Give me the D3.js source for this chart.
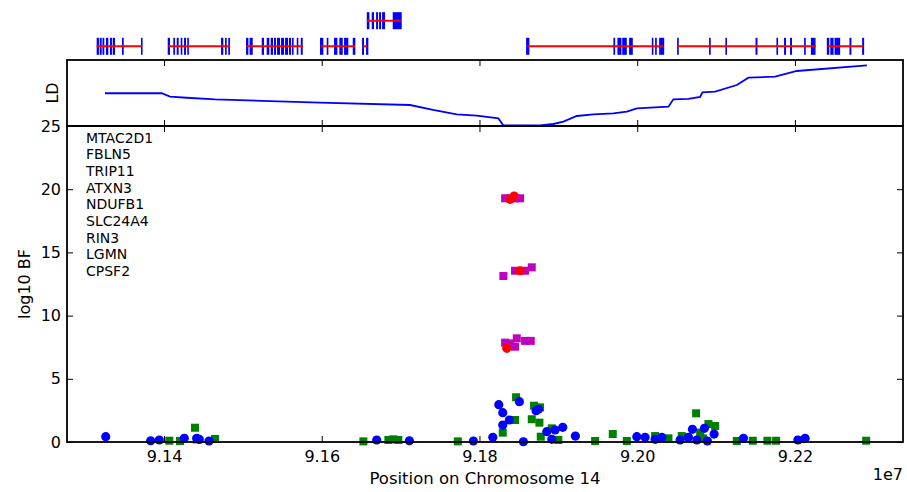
<!DOCTYPE html>
<html>
<head>
<meta charset="utf-8">
<script src="https://cdn.jsdelivr.net/npm/d3@7/dist/d3.min.js"></script>
<style>
  html, body { margin: 0; padding: 0; background: #fff; }
  svg { display: block; font-family: "DejaVu Sans", sans-serif; }
</style>
</head>
<body>
<svg id="chart" width="907" height="492"></svg>
<script>
// ---------------- DATA ----------------
const geneNames = ["MTAC2D1", "FBLN5", "TRIP11", "ATXN3", "NDUFB1", "CPSF2", "SLC24A4", "RIN3", "LGMN"];
const legendNames = ["MTAC2D1", "FBLN5", "TRIP11", "ATXN3", "NDUFB1", "SLC24A4", "RIN3", "LGMN", "CPSF2"];
const geneRows = [0, 0, 0, 0, 0, 1, 0, 0, 0];
const geneStarts = [91314600, 91405500, 91504900, 91598700, 91652000, 91657100, 91860700, 92051500, 92241700];
const geneEnds   = [91371700, 91483700, 91575900, 91642200, 91657100, 91700200, 92033200, 92226500, 92286800];
const geneExons = [
  [[91314600,91317500],[91318500,91321000],[91322000,91324300],[91326400,91329400],[91331500,91334000],[91335000,91337900],[91346700,91348900],[91370800,91372100]],
  [[91404700,91407600],[91411800,91414000],[91416100,91418600],[91421200,91423200],[91425400,91427900],[91429500,91431300],[91472300,91475200],[91477400,91479500],[91481500,91483700]],
  [[91504000,91507000],[91508500,91512500],[91523900,91526800],[91530200,91533500],[91535300,91538200],[91539500,91542000],[91543300,91547100],[91548400,91552200],[91553500,91557300],[91558500,91561100],[91562300,91564000],[91568300,91570300],[91573400,91575900]],
  [[91597800,91602000],[91606300,91608400],[91615600,91619800],[91622300,91626600],[91628300,91633700],[91639300,91642600]],
  [[91651100,91653600],[91656200,91659100]],
  [[91657100,91660400],[91663400,91666300],[91668900,91671400],[91672700,91675200],[91676500,91680300],[91690000,91701400]],
  [[91859100,91863300],[91969800,91972000],[91974900,91980000],[91981000,91986800],[91989700,91994400],[92018500,92020500],[92022700,92024800],[92027800,92034200]],
  [[92050600,92052700],[92091100,92093200],[92111800,92113800],[92150000,92152500],[92176500,92178600],[92186200,92188700],[92193800,92196300],[92211600,92213700],[92220200,92226100]],
  [[92240400,92243500],[92244800,92249000],[92250200,92257300],[92269100,92271600],[92285200,92287700]]
];

const ldPos = [91325200, 91397100, 91407600, 91428800, 91464700, 91597800, 91712000, 91741100, 91771200, 91796600, 91824000, 91830300, 91876800, 91893700, 91906400, 91923400, 91944400, 91969800, 91986800, 91999500, 92039600, 92045900, 92064900, 92079800, 92082700, 92098800, 92126300, 92141000, 92174900, 92202400, 92291200];
const ldVal = [0.492, 0.492, 0.44, 0.424, 0.40, 0.348, 0.313, 0.237, 0.171, 0.150, 0.110, 0.0, 0.0, 0.023, 0.058, 0.145, 0.171, 0.186, 0.211, 0.263, 0.287, 0.40, 0.405, 0.435, 0.507, 0.516, 0.618, 0.73, 0.745, 0.832, 0.919];

const greenPos = [91406700, 91420300, 91439300, 91441500, 91464700, 91652800, 91684500, 91690800, 91697100, 91772500, 91829500, 91845100, 91846400, 91866300, 91869200, 91876000, 91876800, 91877700, 91891700, 91900000, 91946600, 91969000, 91986800, 92022700, 92039600, 92056500, 92074700, 92079800, 92083200, 92090300, 92098800, 92126300, 92146600, 92165100, 92176100, 92290300];
const greenVal = [0.1, 0.08, 1.13, 0.2, 0.24, 0.05, 0.16, 0.21, 0.16, 0.05, 0.74, 1.74, 3.54, 1.8, 2.87, 1.53, 2.74, 0.42, 1.08, 0.16, 0.08, 0.63, 0.08, 0.47, 0.29, 0.47, 2.27, 0.74, 0.29, 1.42, 1.27, 0.08, 0.1, 0.1, 0.1, 0.1];

const bluePos = [91326100, 91383100, 91394000, 91425700, 91441500, 91444800, 91457100, 91669700, 91711100, 91792300, 91816900, 91824500, 91829500, 91829500, 91837900, 91850600, 91855700, 91871800, 91874700, 91885300, 91891700, 91895900, 91905600, 91921600, 91999500, 92010000, 92022700, 92031200, 92054400, 92064900, 92070000, 92075600, 92085200, 92089000, 92097500, 92134700, 92203700, 92212900];
const blueVal = [0.42, 0.1, 0.16, 0.29, 0.29, 0.2, 0.08, 0.16, 0.1, 0.08, 0.37, 2.95, 2.32, 1.34, 1.74, 3.19, 0.02, 2.48, 2.59, 0.82, 0.21, 0.95, 1.16, 0.47, 0.42, 0.37, 0.21, 0.37, 0.16, 0.37, 1.0, 0.16, 1.08, 0.08, 0.63, 0.29, 0.16, 0.29];

const magentaPos = [91832500, 91838800, 91845100, 91851500, 91830300, 91845100, 91857800, 91866300, 91832500, 91838800, 91847300, 91857800, 91865000, 91845100];
const magentaVal = [19.28, 19.28, 19.28, 19.28, 13.13, 13.55, 13.55, 13.82, 7.86, 7.8, 8.2, 8.0, 8.0, 7.54];

const redPos = [91838800, 91843900, 91851500, 91834600];
const redVal = [19.2, 19.46, 13.55, 7.41];

const xTicks = [91400000, 91600000, 91800000, 92000000, 92200000];
const yTicks = [0, 5, 10, 15, 20, 25];

// ---------------- LAYOUT ----------------
const L = 67, R = 903;
const ldTop = 60, mainTop = 126, mainBottom = 442;

const svg = d3.select("#chart");

const x = d3.scaleLinear().domain([91277000, 92337000]).range([L, R]);
const y = d3.scaleLinear().domain([0, 25]).range([mainBottom, mainTop]);
const yLD = d3.scaleLinear().domain([0, 1]).range([mainTop - 0.5, ldTop]);
const yGene = d3.scaleLinear().domain([0, 1]).range([46.3, 20.7]);

// ---------------- GENE TRACK ----------------
const genes = geneNames.map((n, i) => ({name: n, row: geneRows[i], start: geneStarts[i], end: geneEnds[i], exons: geneExons[i]}));
const gTrack = svg.append("g");
genes.forEach(g => {
  gTrack.selectAll(null).data(g.exons).enter().append("rect")
    .attr("x", d => x(d[0]))
    .attr("width", d => Math.max(x(d[1]) - x(d[0]), 1.6))
    .attr("y", yGene(g.row) - 8.5)
    .attr("height", 17)
    .attr("fill", "#0000ff");
});
genes.forEach(g => {
  gTrack.append("line")
    .attr("x1", x(g.start)).attr("x2", x(g.end))
    .attr("y1", yGene(g.row)).attr("y2", yGene(g.row))
    .attr("stroke", "#ff0000").attr("stroke-width", 2);
});

// ---------------- LD PANEL ----------------
const ldLine = d3.line().x((d, i) => x(ldPos[i])).y(d => yLD(d));
svg.append("path").datum(ldVal)
  .attr("d", ldLine)
  .attr("fill", "none").attr("stroke", "#0000ff").attr("stroke-width", 1.8);

svg.append("g").attr("transform", `translate(0,${ldTop})`)
  .call(d3.axisTop(x).tickValues(xTicks).tickSizeInner(-6).tickSizeOuter(0).tickFormat(""))
  .call(g => g.select(".domain").remove());
svg.append("g").attr("transform", `translate(0,${mainTop})`)
  .call(d3.axisBottom(x).tickValues(xTicks).tickSizeInner(-6).tickSizeOuter(0).tickFormat(""))
  .call(g => g.select(".domain").remove());

svg.append("text")
  .attr("transform", `translate(58,${(ldTop + mainTop) / 2}) rotate(-90)`)
  .attr("text-anchor", "middle")
  .attr("font-size", 16)
  .text("LD");

// ---------------- MAIN PANEL ----------------
const gMain = svg.append("g");
const sq = 8;
gMain.selectAll("rect.green").data(greenVal).enter().append("rect")
  .attr("class", "green")
  .attr("x", (d, i) => x(greenPos[i]) - sq / 2)
  .attr("y", d => y(d) - sq / 2)
  .attr("width", sq).attr("height", sq)
  .attr("fill", "#008000");
gMain.selectAll("circle.blue").data(blueVal).enter().append("circle")
  .attr("class", "blue")
  .attr("cx", (d, i) => x(bluePos[i]))
  .attr("cy", d => y(d))
  .attr("r", 4.6)
  .attr("fill", "#0000ff");
gMain.selectAll("rect.mag").data(magentaVal).enter().append("rect")
  .attr("class", "mag")
  .attr("x", (d, i) => x(magentaPos[i]) - sq / 2)
  .attr("y", d => y(d) - sq / 2)
  .attr("width", sq).attr("height", sq)
  .attr("fill", "#bf00bf");
gMain.selectAll("circle.red").data(redVal).enter().append("circle")
  .attr("class", "red")
  .attr("cx", (d, i) => x(redPos[i]))
  .attr("cy", d => y(d))
  .attr("r", 4.6)
  .attr("fill", "#ff0000");

// axes
const xAxisB = svg.append("g").attr("transform", `translate(0,${mainBottom})`)
  .call(d3.axisBottom(x).tickValues(xTicks).tickSizeInner(-6).tickSizeOuter(0).tickPadding(9)
    .tickFormat(d => (d / 1e7).toFixed(2)));
xAxisB.select(".domain").remove();
xAxisB.selectAll("text").attr("font-size", 16).attr("font-family", "DejaVu Sans").attr("fill", "#000");

const xAxisT = svg.append("g").attr("transform", `translate(0,${mainTop})`)
  .call(d3.axisTop(x).tickValues(xTicks).tickSizeInner(-6).tickSizeOuter(0).tickFormat(""));
xAxisT.select(".domain").remove();

const yAxisL = svg.append("g").attr("transform", `translate(${L},0)`)
  .call(d3.axisLeft(y).tickValues(yTicks).tickSizeInner(-6).tickSizeOuter(0).tickPadding(6));
yAxisL.select(".domain").remove();
yAxisL.selectAll("text").attr("font-size", 16).attr("font-family", "DejaVu Sans").attr("fill", "#000");

const yAxisR = svg.append("g").attr("transform", `translate(${R},0)`)
  .call(d3.axisRight(y).tickValues(yTicks).tickSizeInner(-6).tickSizeOuter(0).tickFormat(""));
yAxisR.select(".domain").remove();

svg.selectAll(".tick line").attr("stroke", "#000").attr("stroke-width", 1);

// frames
svg.append("rect").attr("x", L).attr("y", ldTop).attr("width", R - L).attr("height", mainTop - ldTop)
  .attr("fill", "none").attr("stroke", "#000").attr("stroke-width", 1.8);
svg.append("rect").attr("x", L).attr("y", mainTop).attr("width", R - L).attr("height", mainBottom - mainTop)
  .attr("fill", "none").attr("stroke", "#000").attr("stroke-width", 1.8);

// legend names
svg.append("g").selectAll("text").data(legendNames).enter().append("text")
  .attr("x", 86)
  .attr("y", (d, i) => 137.5 + i * 16.66)
  .attr("dy", "0.36em")
  .attr("font-size", 14)
  .text(d => d);

// labels
svg.append("text")
  .attr("x", (L + R) / 2).attr("y", 483.5)
  .attr("text-anchor", "middle").attr("font-size", 16.5)
  .text("Position on Chromosome 14");
svg.append("text")
  .attr("x", 903).attr("y", 479.5)
  .attr("text-anchor", "end").attr("font-size", 16)
  .text("1e7");
svg.append("text")
  .attr("transform", `translate(29.5,${(mainTop + mainBottom) / 2}) rotate(-90)`)
  .attr("text-anchor", "middle").attr("font-size", 16)
  .text("log10 BF");
</script>
</body>
</html>
